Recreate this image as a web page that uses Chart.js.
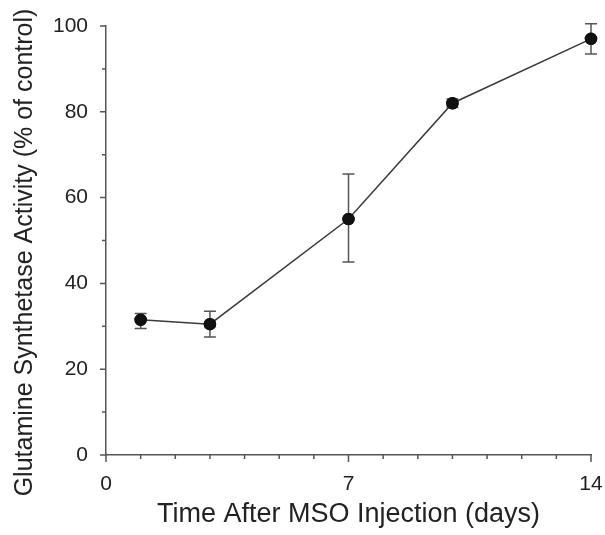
<!DOCTYPE html>
<html lang="en">
  <head>
    <meta charset="UTF-8" />
    <title>Glutamine Synthetase Activity</title>
    <script src="https://cdn.jsdelivr.net/npm/chart.js"></script>
    <style>
      body { margin: 0; background: #fff; }
    </style>
  </head>
  <body>
    <canvas id="gsChart" width="605" height="535"></canvas>

    <script>
      // values
      const days = [1, 3, 7, 10, 14];
      const activity = [31.5, 30.5, 55, 82, 97];
      const errLow = [29.5, 27.5, 45, 81, 93.5];
      const errHigh = [33, 33.5, 65.5, 83, 100.5];
      const xTickLabels = [0, 7, 14];
      const yTickLabels = [0, 20, 40, 60, 80, 100];
      const yTitle = "Glutamine Synthetase Activity (% of control)";

      const axisColor = "#555";

      // tick marks (long for labelled ticks, short for the others)
      const tickMarks = {
        id: "tickMarks",
        afterDraw(chart) {
          const ctx = chart.ctx;
          const xs = chart.scales.x;
          const ys = chart.scales.y;
          ctx.save();
          ctx.strokeStyle = axisColor;
          ctx.lineWidth = 1.5;
          ctx.beginPath();
          xs.ticks.forEach((t) => {
            const px = xs.getPixelForValue(t.value);
            const len = xTickLabels.includes(t.value) ? 7 : 4;
            ctx.moveTo(px, xs.top);
            ctx.lineTo(px, xs.top + len);
          });
          ys.ticks.forEach((t) => {
            const py = ys.getPixelForValue(t.value);
            const len = yTickLabels.includes(t.value) ? 6 : 4;
            ctx.moveTo(ys.right, py);
            ctx.lineTo(ys.right - len, py);
          });
          ctx.stroke();

          // y axis title
          ctx.fillStyle = "#222";
          ctx.font = "25px 'Liberation Sans', Arial, sans-serif";
          ctx.textAlign = "center";
          ctx.textBaseline = "middle";
          ctx.translate(25, (chart.chartArea.top + chart.chartArea.bottom) / 2 + 12);
          ctx.rotate(-Math.PI / 2);
          ctx.fillText(yTitle, 0, 0);
          ctx.restore();
        },
      };

      // error bars drawn through the chart scales
      const errorBars = {
        id: "errorBars",
        afterDatasetsDraw(chart) {
          const ctx = chart.ctx;
          const xs = chart.scales.x;
          const ys = chart.scales.y;
          ctx.save();
          ctx.strokeStyle = axisColor;
          ctx.lineWidth = 1.5;
          days.forEach((d, i) => {
            const px = xs.getPixelForValue(d);
            const top = ys.getPixelForValue(errHigh[i]);
            const bot = ys.getPixelForValue(errLow[i]);
            ctx.beginPath();
            ctx.moveTo(px, top);
            ctx.lineTo(px, bot);
            ctx.moveTo(px - 6, top);
            ctx.lineTo(px + 6, top);
            ctx.moveTo(px - 6, bot);
            ctx.lineTo(px + 6, bot);
            ctx.stroke();
          });
          ctx.restore();
          // points back on top of the bars
          chart.getDatasetMeta(0).data.forEach((p) => p.draw(ctx));
        },
      };

      const ctx = document.getElementById("gsChart").getContext("2d");
      new Chart(ctx, {
        type: "line",
        data: {
          datasets: [
            {
              data: days.map((d, i) => ({ x: d, y: activity[i] })),
              borderColor: "#3a3a3a",
              borderWidth: 1.5,
              pointRadius: 5.5,
              pointBackgroundColor: "#111",
              pointBorderColor: "#111",
              tension: 0,
              clip: false,
            },
          ],
        },
        options: {
          responsive: false,
          animation: false,
          layout: { padding: { top: 26, right: 14 } },
          plugins: {
            legend: { display: false },
            tooltip: { enabled: false },
          },
          scales: {
            x: {
              type: "linear",
              min: 0,
              max: 14,
              afterFit(scale) {
                scale.height = 80;
                scale.paddingLeft = 0;
                scale.paddingRight = 0;
              },
              border: { color: axisColor, width: 1.5 },
              grid: { drawOnChartArea: false, tickLength: 7, tickColor: "transparent" },
              ticks: {
                stepSize: 1,
                autoSkip: false,
                maxRotation: 0,
                color: "#222",
                font: { family: "Liberation Sans", size: 21 },
                padding: 10,
                callback: (v) => (xTickLabels.includes(v) ? String(v) : ""),
              },
              title: {
                display: true,
                text: "Time After MSO Injection (days)",
                color: "#222",
                font: { family: "Liberation Sans", size: 27 },
                padding: { top: 0, bottom: 4 },
              },
            },
            y: {
              min: 0,
              max: 100,
              afterFit(scale) {
                scale.width = 106;
                scale.paddingTop = 0;
                scale.paddingBottom = 0;
              },
              border: { color: axisColor, width: 1.5 },
              grid: { drawOnChartArea: false, tickLength: 6, tickColor: "transparent" },
              ticks: {
                stepSize: 10,
                autoSkip: false,
                color: "#222",
                font: { family: "Liberation Sans", size: 21 },
                padding: 12,
                callback: (v) => (yTickLabels.includes(v) ? String(v) : ""),
              },
            },
          },
        },
        plugins: [errorBars, tickMarks],
      });
    </script>
  </body>
</html>
